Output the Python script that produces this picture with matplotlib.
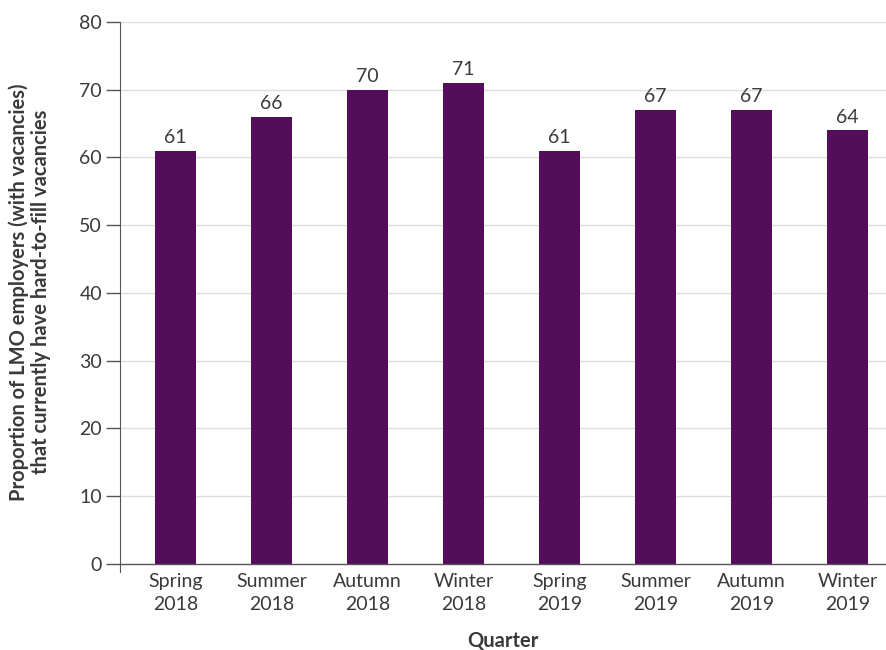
import matplotlib.pyplot as plt

quarters = ['Spring\n2018', 'Summer\n2018', 'Autumn\n2018', 'Winter\n2018',
            'Spring\n2019', 'Summer\n2019', 'Autumn\n2019', 'Winter\n2019']
values = [61, 66, 70, 71, 61, 67, 67, 64]

plt.rcParams['font.family'] = ['Lato', 'DejaVu Sans']
text_col = '#3a3a3a'
bar_col = '#540d5a'

fig = plt.figure(figsize=(8.87, 6.5), dpi=100)
ax = fig.add_axes([0.1353, 0.12, 0.8637, 0.8462])

x = range(len(quarters))
bars = ax.bar(x, values, width=0.43, color=bar_col, zorder=3)
for xi, v in zip(x, values):
    ax.text(xi, v + 0.7, str(v), ha='center', va='bottom', fontsize=14, color=text_col)

ax.set_xlim(-0.578, 7.40)
ax.set_ylim(-1.2, 80)
ax.set_yticks(range(0, 81, 10))
ax.set_xticks(list(x))
ax.set_xticklabels(quarters, fontsize=14, color=text_col, linespacing=1.4)
ax.tick_params(axis='x', length=0, pad=1)
ax.tick_params(axis='y', length=10, width=1, color='#555555', labelsize=14,
               labelcolor=text_col, pad=3)

for t in range(10, 81, 10):
    ax.axhline(t, color='#dddddd', lw=1, zorder=1)
ax.axhline(0, color='#555555', lw=1, zorder=4)

for s in ['top', 'right', 'bottom']:
    ax.spines[s].set_visible(False)
ax.spines['left'].set_color('#555555')
ax.spines['left'].set_bounds(-1.2, 80)

ax.set_ylabel('Proportion of LMO employers (with vacancies)\nthat currently have hard-to-fill vacancies',
              fontsize=14.5, fontweight='bold', color=text_col, linespacing=1.15)
ax.yaxis.set_label_coords(-0.090, 0.509)
ax.set_xlabel('Quarter', fontsize=14.5, fontweight='bold', color=text_col)
ax.xaxis.set_label_coords(0.5, -0.108)

fig.savefig('out.png', dpi=100)
